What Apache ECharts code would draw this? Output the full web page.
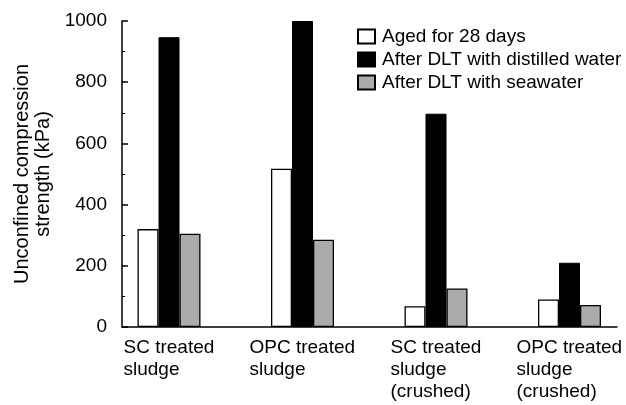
<!DOCTYPE html>
<html>
<head>
<meta charset="utf-8">
<script src="https://cdn.jsdelivr.net/npm/echarts@6/dist/echarts.min.js"></script>
<style>html,body{margin:0;padding:0;background:#fff}#c{width:626px;height:405px}</style>
</head>
<body>
<div id="c"></div>
<script>
var categories = ['SC treated\nsludge', 'OPC treated\nsludge', 'SC treated\nsludge\n(crushed)', 'OPC treated\nsludge\n(crushed)'];
var seriesNames = ['Aged for 28 days', 'After DLT with distilled water', 'After DLT with seawater'];
var aged28 = [320, 517, 68, 90];
var dltDistilled = [947, 1000, 697, 210];
var dltSeawater = [305, 285, 126, 72];
var yTicks = [0, 200, 400, 600, 800, 1000];

var FONT = '"Liberation Sans", Arial, sans-serif';
var chart = echarts.init(document.getElementById('c'), null, {renderer: 'canvas'});
function lab(v) {
  var key = v.indexOf('OPC') === 0 ? 'o' : 's';
  return v.split('\n').map(function (l) { return '{' + key + '|' + l + '}'; }).join('\n');
}
var baseBar = {type: 'bar', xAxisIndex: 1, yAxisIndex: 1, barWidth: 21, barGap: '0%'};
chart.setOption({
  animation: false,
  backgroundColor: '#fff',
  textStyle: {fontFamily: FONT, color: '#000'},
  grid: [
    {left: 122, top: 21, right: 9, bottom: 78, containLabel: false, outerBoundsMode: 'none'},
    {left: 102.25, top: 21, width: 534, bottom: 78, containLabel: false, outerBoundsMode: 'none'}
  ],
  legend: {
    left: 357, top: 27, orient: 'vertical', icon: 'rect', padding: 0,
    itemWidth: 17, itemHeight: 14, itemGap: 4,
    textStyle: {fontFamily: FONT, fontSize: 19, color: '#000', lineHeight: 19, padding: [0, 0, 0, 2]},
    data: seriesNames
  },
  xAxis: [
    {type: 'category', gridIndex: 0, data: categories, axisLine: {lineStyle: {color: '#000', width: 1.5}},
     axisTick: {show: false}, axisLabel: {show: false}, splitLine: {show: false}},
    {type: 'category', gridIndex: 1, data: categories, axisLine: {show: false}, axisTick: {show: false},
     splitLine: {show: false},
     axisLabel: {margin: 10, fontFamily: FONT, fontSize: 19, color: '#000', lineHeight: 22, interval: 0,
       formatter: lab,
       rich: {
         s: {fontFamily: FONT, fontSize: 19, lineHeight: 22, width: 91, align: 'left', color: '#000'},
         o: {fontFamily: FONT, fontSize: 19, lineHeight: 22, width: 106, align: 'left', color: '#000'}
       }}}
  ],
  yAxis: [
    {type: 'value', gridIndex: 0, min: yTicks[0], max: yTicks[yTicks.length - 1], interval: 200,
     name: 'Unconfined compression\nstrength (kPa)', nameLocation: 'middle', nameGap: 68, nameRotate: 90,
     nameTextStyle: {fontFamily: FONT, fontSize: 20, lineHeight: 21, color: '#000', align: 'center'},
     axisLine: {show: true, lineStyle: {color: '#000', width: 1.5}},
     axisTick: {show: true, inside: true, length: 6, lineStyle: {color: '#000', width: 1.5}},
     minorTick: {show: true, splitNumber: 2, length: 3, lineStyle: {color: '#000', width: 1}},
     axisLabel: {margin: 15, fontFamily: FONT, fontSize: 19, color: '#000',
       formatter: function (v) { return String(v); }},
     splitLine: {show: false}},
    {type: 'value', gridIndex: 1, min: 0, max: 1000, show: false, splitLine: {show: false}}
  ],
  series: [
    Object.assign({}, baseBar, {name: seriesNames[0], data: aged28,
      itemStyle: {color: '#ffffff', borderColor: '#000', borderWidth: 1.3}}),
    Object.assign({}, baseBar, {name: seriesNames[1], data: dltDistilled,
      itemStyle: {color: '#000000', borderColor: '#000', borderWidth: 1}}),
    Object.assign({}, baseBar, {name: seriesNames[2], data: dltSeawater,
      itemStyle: {color: '#ababab', borderColor: '#000', borderWidth: 1.3}})
  ]
});
</script>
</body>
</html>
